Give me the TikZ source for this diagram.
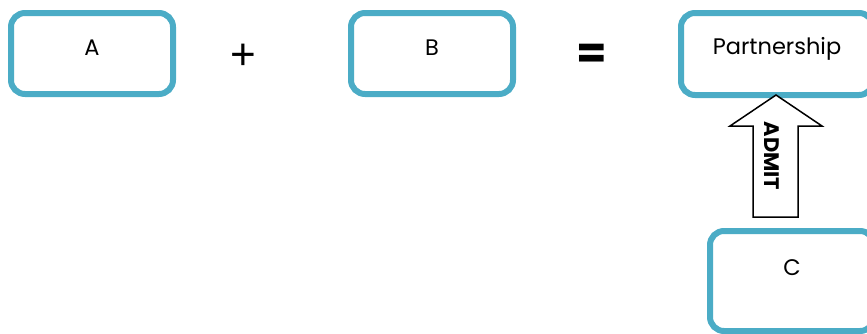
\documentclass[tikz,border=0pt]{standalone}
\usepackage{fontspec}
\setmainfont{Poppins}
\newfontfamily\plusfont{Liberation Sans}
\definecolor{boxblue}{HTML}{4BACC6}
\begin{document}
\begin{tikzpicture}[x=1pt,y=-1pt,
  bx/.style={draw=boxblue,line width=6pt,rounded corners=14pt,fill=white,inner sep=0pt},
  lbl/.style={font=\fontsize{22.5}{24}\selectfont,inner sep=0pt,anchor=base},
  opsym/.style={inner sep=0pt}]
\useasboundingbox (0,0) rectangle (867,333);
\begin{scope}
\clip (0,0) rectangle (867,333);
\node[bx,minimum width=162pt,minimum height=81pt] (boxA) at (92,53.5) {};
\node[bx,minimum width=162pt,minimum height=81pt] (boxB) at (432,53.5) {};
\node[bx,minimum width=192pt,minimum height=82pt] (boxP) at (777,54) {};
\node[bx,minimum width=164pt,minimum height=100pt] (boxC) at (792,281) {};
\end{scope}
\node[lbl] (tA) at (92,55) {A};
\node[lbl] (tB) at (432,55) {B};
\node[lbl] (tP) at (777,54) {Partnership};
\node[lbl] (tC) at (792,275) {C};
\node[opsym,font=\plusfont\fontsize{44}{44}\selectfont] (plus) at (243,57) {+};
\node[opsym,font=\bfseries\fontsize{44}{44}\selectfont] (eq) at (591.5,56) {=};
% arrow
\coordinate (tip) at (776,95);
\coordinate (wl) at (730,126);
\coordinate (wr) at (822,126);
\coordinate (sl) at (753,126);
\coordinate (sr) at (798,126);
\coordinate (bl) at (753,217);
\coordinate (br) at (798,217);
\draw[line width=1.5pt,fill=white,line join=miter] (tip) -- (wr) -- (sr) -- (br) -- (bl) -- (sl) -- (wl) -- cycle;
\node[inner sep=0pt,rotate=-90,font=\bfseries\fontsize{21}{24}\selectfont] (admit) at (772,156) {ADMIT};
\end{tikzpicture}
\end{document}
